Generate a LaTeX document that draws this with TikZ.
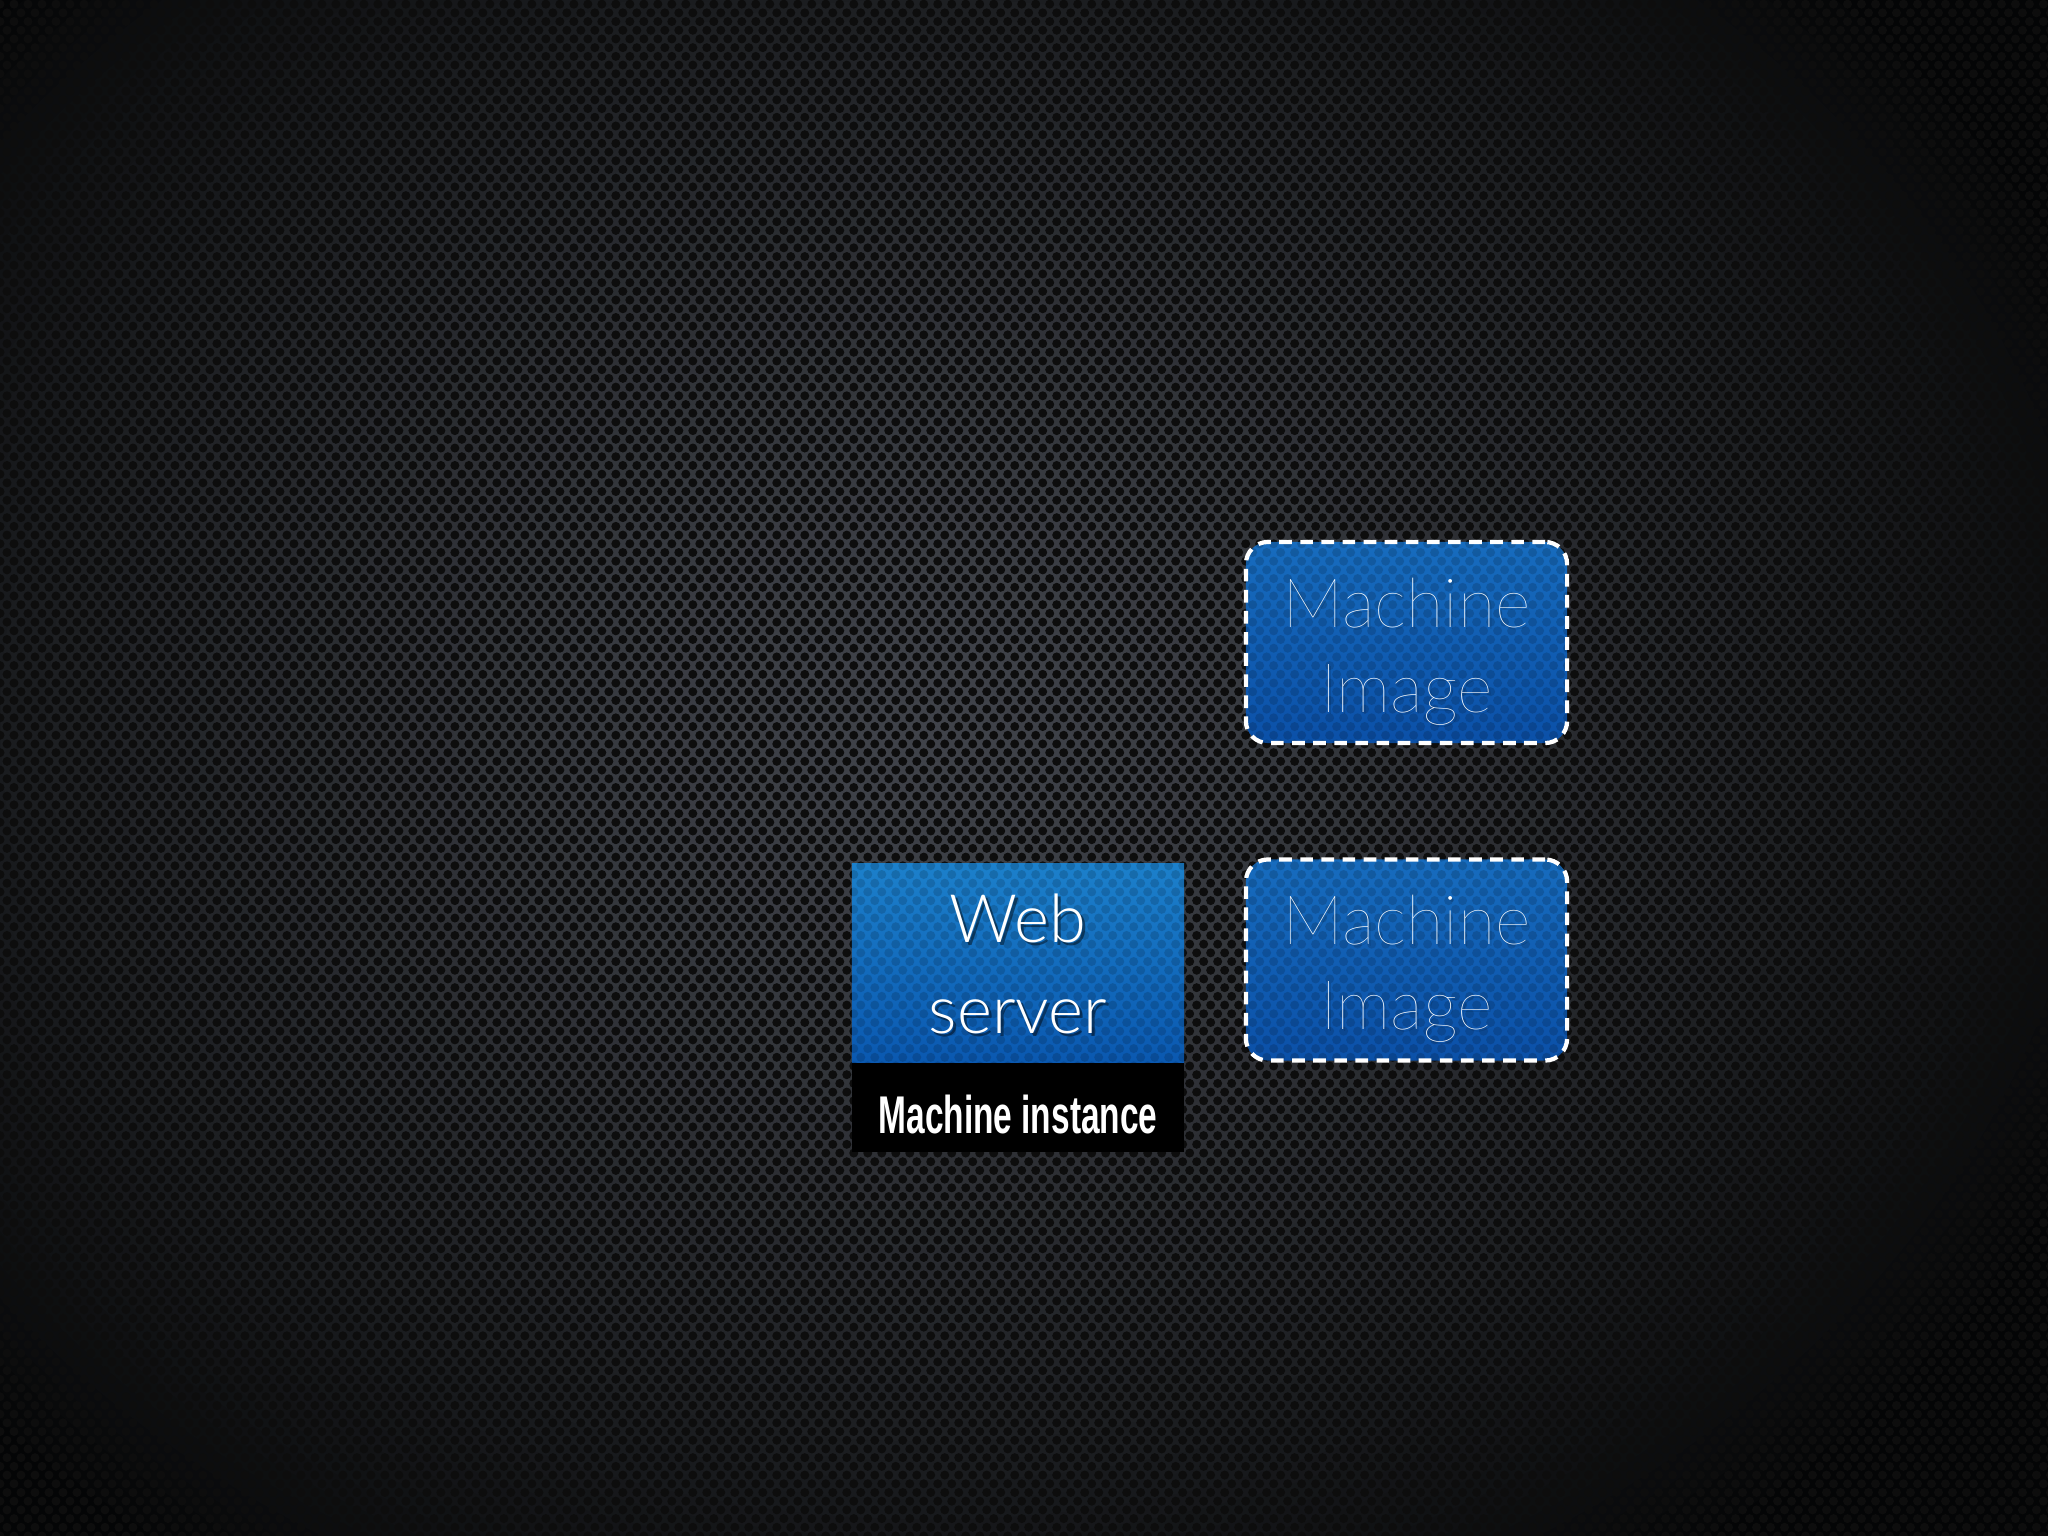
\documentclass[tikz,border=0pt]{standalone}
\usepackage{fontspec}
\setmainfont{Liberation Sans}
\newfontfamily\lightfont{Lato Light}
\newfontfamily\hairfont{Lato Thin}
\usetikzlibrary{patterns}
\definecolor{bgbright}{HTML}{40434A}
\definecolor{bgdark}{HTML}{040506}
\definecolor{webtop}{HTML}{1C80CB}
\definecolor{webbot}{HTML}{0A58B0}
\definecolor{imgtop}{HTML}{176CBE}
\definecolor{imgbot}{HTML}{0B50A8}
\pgfdeclarepatternformonly{perf}{\pgfqpoint{-1.4pt}{-1.4pt}}{\pgfqpoint{3.4pt}{3.9pt}}{\pgfqpoint{3.98pt}{4.95pt}}{%
  \pgfpathcircle{\pgfqpoint{0pt}{0pt}}{1.28pt}%
  \pgfpathcircle{\pgfqpoint{1.99pt}{2.475pt}}{1.28pt}%
  \pgfusepath{fill}}
\tikzset{
  webbox/.style={rectangle, inner sep=0pt, minimum width=3.32cm, minimum height=1.99cm,
    top color=webtop, bottom color=webbot},
  capbox/.style={rectangle, inner sep=0pt, minimum width=3.32cm, minimum height=0.89cm, fill=black},
  imgbox/.style={rectangle, rounded corners=0.22cm, inner sep=0pt, minimum width=3.21cm, minimum height=2.01cm,
    top color=imgtop, bottom color=imgbot},
  dashedge/.style={rectangle, rounded corners=0.22cm, inner sep=0pt, minimum width=3.21cm, minimum height=2.01cm,
    draw=white, line width=1.2pt, dash pattern=on 3.6pt off 2.4pt},
  webtxt/.style={anchor=base, text=white, font=\lightfont\fontsize{19}{19}\selectfont, inner sep=0pt},
  imgtxt/.style={anchor=base, text=white, font=\hairfont\fontsize{19.5}{19.5}\selectfont, inner sep=0pt},
  captxt/.style={anchor=base, text=white, inner sep=0pt},
  holes/.style={pattern=perf, pattern color=black, fill opacity=0.15},
}
\begin{document}
\begin{tikzpicture}[x=0.01cm,y=-0.01cm]
\useasboundingbox (0,0) rectangle (2048,1536);
\begin{scope}
\clip (0,0) rectangle (2048,1536);
\fill[bgdark] (0,0) rectangle (2048,1536);
\foreach \k in {0,...,59}{
  \pgfmathsetmacro\rr{1.3*(1-\k/60)}
  \pgfmathsetmacro\pp{max(0,100*(1-(\rr/1.17)^1.4))}
  \fill[bgbright!\pp!bgdark] (930,720) ellipse [x radius=1100*\rr, y radius=900*\rr];
}
\end{scope}
\fill[pattern=perf, pattern color=black!95] (0,0) rectangle (2048,1536);
% web server
\node[webbox] (web) at (1018,963.5) {};
\fill[holes] (web.north west) rectangle (web.south east);
\node[capbox] (cap) at (1018,1107.5) {};
\node[webtxt, text=black, opacity=0.45] (webs1) at (1021,945) {Web};
\node[webtxt, text=black, opacity=0.45] (webs2) at (1021,1036) {server};
\node[webtxt] (webt1) at (1018,942) {Web};
\node[webtxt] (webt2) at (1018,1033) {server};
\node[captxt] (capt) at (1018,1133) {\scalebox{0.63}[1]{\bfseries\fontsize{15.1}{15.1}\selectfont Machine instance}};
% machine images
\node[imgbox] (img1) at (1406.5,642.5) {};
\fill[holes, rounded corners=0.22cm] (img1.north west) rectangle (img1.south east);
\node[dashedge] (img1e) at (img1) {};
\node[imgtxt, text=black, opacity=0.15] (img1sa) at (1408.5,629) {Machine};
\node[imgtxt, text=black, opacity=0.15] (img1sb) at (1408.5,714) {Image};
\node[imgtxt] (img1a) at (1406.5,627) {Machine};
\node[imgtxt] (img1b) at (1406.5,712) {Image};
\node[imgbox] (img2) at (1406.5,960) {};
\fill[holes, rounded corners=0.22cm] (img2.north west) rectangle (img2.south east);
\node[dashedge] (img2e) at (img2) {};
\node[imgtxt, text=black, opacity=0.15] (img2sa) at (1408.5,946) {Machine};
\node[imgtxt, text=black, opacity=0.15] (img2sb) at (1408.5,1031) {Image};
\node[imgtxt] (img2a) at (1406.5,944) {Machine};
\node[imgtxt] (img2b) at (1406.5,1029) {Image};
\end{tikzpicture}
\end{document}
